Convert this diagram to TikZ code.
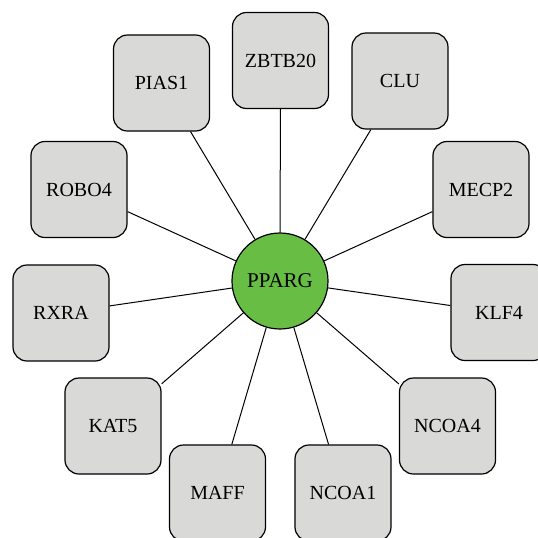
\documentclass[tikz,border=0pt]{standalone}
\usepackage{fontspec}
\setmainfont{Liberation Serif}
\definecolor{boxgray}{RGB}{217,217,215}
\definecolor{hubgreen}{RGB}{104,189,69}
\tikzset{
  gen/.style={draw,line width=0.6pt,fill=boxgray,rounded corners=7pt,
    minimum size=48pt,inner sep=0pt,font=\fontsize{10}{12}\selectfont},
  hub/.style={draw,line width=0.6pt,fill=hubgreen,circle,
    minimum size=48pt,inner sep=0pt,font=\fontsize{10.5}{12}\selectfont},
}
\def\kante#1{\draw[line width=0.5pt] (PPARG) -- (#1);}
\begin{document}
\begin{tikzpicture}[x=0.5pt,y=-0.5pt]
\useasboundingbox (0,0) rectangle (538,538);
\node[hub] (PPARG) at (280,281) {PPARG};
\node[gen] (ZBTB20) at (280.5,60.5) {ZBTB20};
\node[gen] (PIAS1) at (161.5,83) {PIAS1};
\node[gen] (CLU) at (400,81) {CLU};
\node[gen] (ROBO4) at (79,189.5) {ROBO4};
\node[gen] (MECP2) at (481,189.5) {MECP2};
\node[gen] (RXRA) at (61,313) {RXRA};
\node[gen] (KLF4) at (499,312.5) {KLF4};
\node[gen] (KAT5) at (113,426) {KAT5};
\node[gen] (NCOA4) at (447.5,426) {NCOA4};
\node[gen] (MAFF) at (217.5,493) {MAFF};
\node[gen] (NCOA1) at (343,493) {NCOA1};
\kante{ZBTB20}
\kante{PIAS1}
\kante{CLU}
\kante{ROBO4}
\kante{MECP2}
\kante{RXRA}
\kante{KLF4}
\kante{KAT5}
\kante{NCOA4}
\kante{MAFF}
\kante{NCOA1}
\end{tikzpicture}
\end{document}
